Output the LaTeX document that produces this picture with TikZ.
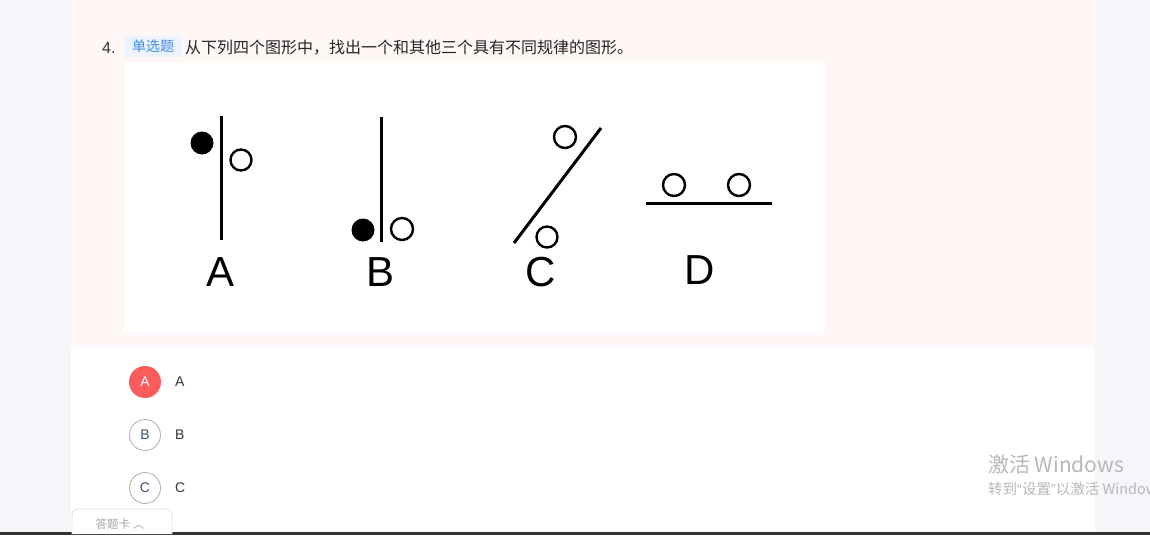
\documentclass[tikz,border=0pt]{standalone}
\usepackage{fontspec}
\setmainfont{Liberation Sans}
\newfontfamily\cjk{Noto Sans CJK SC}
\newfontfamily\lat{Liberation Sans}
\begin{document}
\begin{tikzpicture}[x=1pt,y=-1pt,
  fig/.style={line width=3pt},
  ring/.style={line width=2.4pt,draw=black,fill=white},
  dot/.style={fill=black},
  lab/.style={font=\fontsize{42}{42}\selectfont,inner sep=0pt,anchor=base},
  opt/.style={circle,minimum size=32pt,inner sep=0pt,font=\fontsize{14}{14}\selectfont},
  opttext/.style={font=\fontsize{14}{14}\selectfont,text=black!80,anchor=west,inner sep=0pt}]
\useasboundingbox (0,0) rectangle (1150,535);
\fill[fill={rgb,255:red,245;green,246;blue,250}] (0,0) rectangle (1150,535);
\fill[white] (71,0) rectangle (1095,532);
\fill[fill={rgb,255:red,255;green,246;blue,246}] (71,0) rectangle (1095,347);
\fill[fill={rgb,255:red,51;green,51;blue,51}] (0,532) rectangle (1150,535);
% question line
\node[anchor=base west,inner sep=0pt,font=\fontsize{16}{16}\selectfont,text=black!80] (num) at (102,53) {4.};
\node[anchor=base west,fill={rgb,255:red,236;green,243;blue,252},rounded corners=2pt,text={rgb,255:red,64;green,140;blue,235},font=\cjk\fontsize{14}{14}\selectfont,inner xsep=8pt,inner ysep=4pt] (tag) at (124,52) {单选题};
\node[anchor=base west,inner sep=0pt,font=\cjk\fontsize{16}{16}\selectfont,text=black!85] (q) at (185,53) {从下列四个图形中，找出一个和其他三个具有不同规律的图形。};
% image
\fill[white] (125,63) rectangle (825,333);
% A
\draw[fig] (221,116) -- (221,240);
\fill[dot] (202,143) circle (11.5);
\draw[ring] (241,160) circle (10.5);
\node[lab] (la) at (221,286) {A};
% B
\draw[fig] (381,117) -- (381,242);
\fill[dot] (363,230) circle (11.5);
\draw[ring] (402,229) circle (11);
\node[lab] (lb) at (381,286) {B};
% C
\draw[fig] (514,243) -- (601,128);
\draw[ring] (565,137) circle (11);
\draw[ring] (547,237) circle (10.5);
\node[lab] (lc) at (541,286) {C};
% D
\draw[fig] (646,203) -- (772,203);
\draw[ring] (674,185) circle (11);
\draw[ring] (739,185) circle (11);
\node[lab] (ld) at (700,284) {D};
% options
\node[opt,fill={rgb,255:red,250;green,92;blue,92},text=white] (oa) at (145,382) {A};
\node[opttext] (ta) at (175,382) {A};
\node[opt,draw={rgb,255:red,175;green,175;blue,180},line width=0.8pt,minimum size=31pt,text={rgb,255:red,60;green,80;blue,120}] (ob) at (145,435) {B};
\node[opttext] (tb) at (175,435) {B};
\node[opt,draw={rgb,255:red,175;green,175;blue,180},line width=0.8pt,minimum size=31pt,text={rgb,255:red,60;green,80;blue,120}] (oc) at (145,488) {C};
\node[opttext] (tc) at (175,488) {C};
% answer card tab
\draw[fill=white,draw={rgb,255:red,225;green,225;blue,230},line width=0.8pt,rounded corners=6pt] (72,534) -- (72,509) -- (172,509) -- (172,534);
\node[inner sep=0pt,font=\cjk\fontsize{11.5}{11.5}\selectfont,text=black!35] (card) at (120,524) {答题卡 ︿};
% watermark
\node[anchor=base west,inner sep=0pt,font=\cjk\fontsize{21}{21}\selectfont,text=black!28] (w1) at (988,472) {激活 Windows};
\node[anchor=base west,inner sep=0pt,font=\cjk\fontsize{14.5}{14.5}\selectfont,text=black!28] (w2) at (988,494) {转到{\lat“}设置{\lat”}以激活 Windows};
\end{tikzpicture}
\end{document}
